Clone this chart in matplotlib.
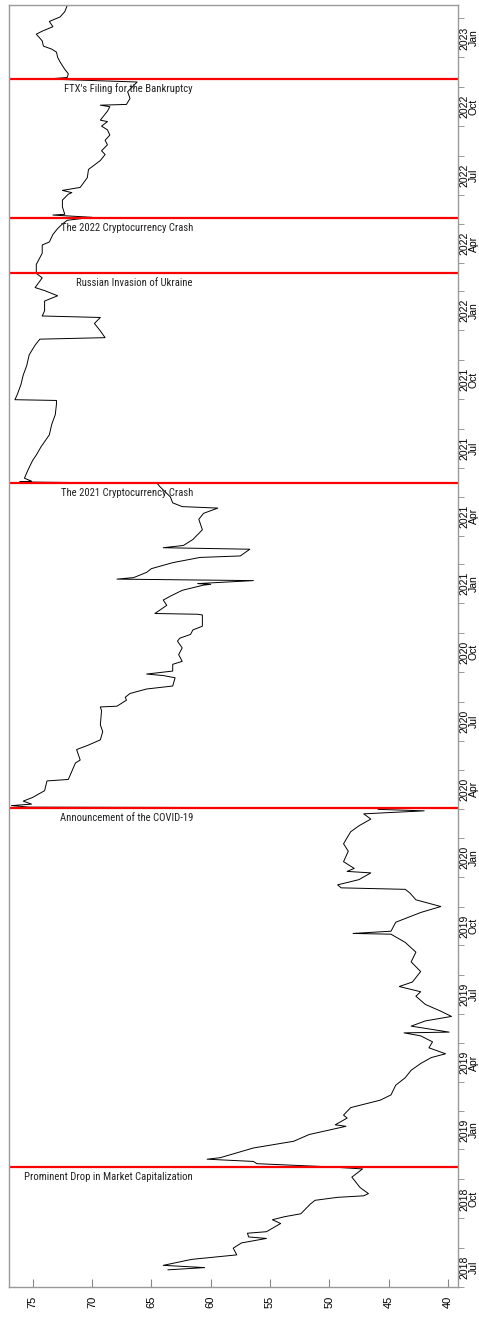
import matplotlib
matplotlib.use('Agg')
import matplotlib.pyplot as plt
import matplotlib.dates as md
import pandas as pd

# series (date, value)
dates = ['2018-07-02', '2018-07-05', '2018-07-08', '2018-07-16', '2018-07-22', '2018-07-31',
         '2018-08-07', '2018-08-13', '2018-08-15', '2018-08-20', '2018-08-22', '2018-09-02',
         '2018-09-07', '2018-09-11', '2018-09-15', '2018-09-28', '2018-10-03', '2018-10-07',
         '2018-10-09', '2018-10-12', '2018-10-20', '2018-11-03', '2018-11-14', '2018-11-17',
         '2018-11-21', '2018-11-24', '2018-11-27', '2018-11-29', '2018-12-12', '2018-12-21',
         '2018-12-30',
         '2019-01-10', '2019-01-12', '2019-01-21', '2019-01-25', '2019-02-04', '2019-02-14',
         '2019-02-21', '2019-03-06', '2019-03-16', '2019-03-26', '2019-04-04', '2019-04-12',
         '2019-04-17', '2019-04-25', '2019-05-03', '2019-05-11', '2019-05-15', '2019-05-16',
         '2019-05-24', '2019-05-31', '2019-06-06', '2019-06-13', '2019-06-22', '2019-07-03',
         '2019-07-09', '2019-07-16', '2019-07-22', '2019-08-05', '2019-08-18', '2019-08-31',
         '2019-09-13', '2019-09-24', '2019-09-25', '2019-09-28', '2019-10-10', '2019-10-23',
         '2019-10-31', '2019-11-09', '2019-11-18', '2019-11-23', '2019-11-25', '2019-11-29',
         '2019-12-06', '2019-12-15', '2019-12-17', '2019-12-21', '2019-12-30',
         '2020-01-13', '2020-01-23', '2020-02-08', '2020-02-16', '2020-02-25', '2020-03-03',
         '2020-03-07', '2020-03-09', '2020-03-11',
         '2020-03-12', '2020-03-14', '2020-03-16', '2020-03-20', '2020-03-25', '2020-04-03',
         '2020-04-16', '2020-04-18', '2020-04-29', '2020-05-10', '2020-05-14', '2020-05-28',
         '2020-06-03', '2020-06-10', '2020-06-21', '2020-06-30', '2020-07-19', '2020-07-24',
         '2020-07-25', '2020-08-02', '2020-08-06', '2020-08-11', '2020-08-17', '2020-08-19',
         '2020-08-21', '2020-09-01', '2020-09-04', '2020-09-06', '2020-09-08', '2020-09-10',
         '2020-09-19', '2020-09-23', '2020-10-02', '2020-10-11', '2020-10-20', '2020-10-24',
         '2020-10-29', '2020-11-04', '2020-11-09', '2020-11-24', '2020-11-25', '2020-11-26',
         '2020-12-07', '2020-12-14', '2020-12-20', '2020-12-27',
         '2021-01-03', '2021-01-04', '2021-01-05', '2021-01-09', '2021-01-11', '2021-01-13',
         '2021-01-20', '2021-01-25', '2021-02-02', '2021-02-09', '2021-02-11', '2021-02-20',
         '2021-02-22', '2021-02-25', '2021-03-05', '2021-03-18', '2021-04-01', '2021-04-09',
         '2021-04-16', '2021-04-18', '2021-04-23', '2021-05-01', '2021-05-15', '2021-05-19',
         '2021-05-21', '2021-05-22', '2021-05-26', '2021-06-06', '2021-06-19', '2021-06-26',
         '2021-07-07', '2021-07-23', '2021-08-06', '2021-08-19', '2021-09-02', '2021-09-07',
         '2021-09-08', '2021-09-15', '2021-09-28', '2021-10-11', '2021-10-24', '2021-11-07',
         '2021-11-20', '2021-11-28', '2021-11-30', '2021-12-09', '2021-12-19', '2021-12-27',
         '2021-12-29',
         '2022-01-05', '2022-01-18', '2022-01-25', '2022-02-01', '2022-02-05', '2022-02-18',
         '2022-02-24', '2022-03-08', '2022-03-23', '2022-04-03', '2022-04-07', '2022-04-17',
         '2022-04-25', '2022-05-01', '2022-05-06', '2022-05-10', '2022-05-13', '2022-05-14',
         '2022-05-24', '2022-06-02', '2022-06-10', '2022-06-12', '2022-06-15', '2022-06-19',
         '2022-07-02', '2022-07-13', '2022-07-19', '2022-07-25', '2022-08-02', '2022-08-07',
         '2022-08-15', '2022-08-21', '2022-08-28', '2022-09-04', '2022-09-09', '2022-09-15',
         '2022-09-17', '2022-09-29', '2022-10-05', '2022-10-07', '2022-10-08', '2022-10-16',
         '2022-10-25', '2022-11-02', '2022-11-07', '2022-11-11', '2022-11-13', '2022-11-18',
         '2022-11-24', '2022-12-04', '2022-12-10', '2022-12-17', '2022-12-21', '2022-12-25',
         '2023-01-01', '2023-01-10', '2023-01-14', '2023-01-20', '2023-01-27', '2023-02-02',
         '2023-02-09', '2023-02-17']

values = [63.6, 60.5, 64.0, 61.6, 57.8, 58.1,
          57.4, 55.3, 56.8, 56.9, 55.3, 54.1,
          54.8, 53.8, 52.4, 51.6, 51.2, 49.3,
          47.1, 46.7, 47.4, 48.1, 47.2, 50.3,
          56.1, 56.4, 60.3, 59.2, 56.4, 53.0,
          51.7,
          48.6, 49.5, 48.5, 48.8, 48.2, 45.7,
          44.8, 44.4, 43.6, 43.1, 42.3, 41.4,
          40.2, 41.6, 41.3, 42.3, 43.7, 39.9,
          43.1, 41.9, 39.7, 40.6, 41.9, 42.7,
          42.3, 44.1, 43.0, 42.3, 43.1, 42.7,
          43.6, 44.8, 48.0, 44.8, 44.4, 42.3,
          40.6, 42.7, 43.2, 43.6, 49.0, 49.3,
          47.5, 46.5, 48.5, 47.9, 48.8,
          48.4, 48.8, 48.2, 47.5, 46.5, 47.1,
          42.0, 45.9, 45.0,
          75.3, 76.8, 75.1, 75.8, 75.0, 74.0,
          73.8, 72.0, 71.7, 71.4, 71.0, 71.3,
          70.3, 69.3, 69.1, 69.3, 69.2, 69.3,
          67.9, 67.1, 67.2, 66.8, 65.4, 64.3,
          63.2, 63.0, 64.0, 65.4, 64.3, 63.2,
          63.2, 62.4, 62.7, 62.4, 62.8, 62.6,
          61.7, 61.5, 60.7, 60.7, 61.1, 64.7,
          63.7, 64.0, 63.3, 62.4,
          60.6, 60.0, 61.1, 56.4, 67.9, 66.5,
          65.4, 65.0, 63.2, 60.9, 57.5, 56.7,
          64.0, 62.3, 61.5, 60.7, 61.0, 60.6,
          59.4, 62.4, 63.2, 63.4, 64.3, 64.5,
          76.1, 75.1, 75.7, 75.4, 75.0, 74.7,
          74.3, 73.6, 73.4, 73.1, 73.0, 73.0,
          76.5, 76.3, 76.0, 75.8, 75.5, 75.3,
          74.8, 74.4, 68.9, 69.3, 69.8, 69.3,
          74.2,
          74.0, 74.0, 72.9, 74.0, 74.8, 74.2,
          74.7, 74.7, 74.2, 74.2, 73.6, 73.3,
          72.9, 72.5, 72.1, 70.0, 73.3, 72.3,
          72.5, 72.5, 72.0, 71.7, 72.5, 71.0,
          70.4, 70.3, 69.8, 69.3, 68.9, 69.2,
          68.7, 68.9, 68.5, 68.7, 69.2, 68.7,
          69.3, 68.7, 68.5, 69.3, 67.1, 66.8,
          67.0, 66.5, 66.2, 73.8, 72.1, 72.0,
          72.3, 72.7, 72.9, 73.0, 73.4, 74.1,
          74.2, 74.7, 74.2, 73.3, 73.6, 72.7,
          72.3, 72.1]

event_dates = ['2018-11-16', '2020-03-11', '2021-05-19', '2022-02-24', '2022-05-09', '2022-11-11']
event_names = ['Prominent Drop in Market Capitalization', 'Announcement of the COVID-19',
               'The 2021 Cryptocurrency Crash', 'Russian Invasion of Ukraine',
               'The 2022 Cryptocurrency Crash', "FTX's Filing for the Bankruptcy"]

value_ticks = [40, 45, 50, 55, 60, 65, 70, 75]
quarter_labels = ['2018-07-05', '2018-10-05', '2019-01-05', '2019-04-05', '2019-07-05',
                  '2019-10-05', '2020-01-05', '2020-04-05', '2020-07-05', '2020-10-05',
                  '2021-01-05', '2021-04-05', '2021-07-05', '2021-10-05', '2022-01-05',
                  '2022-04-05', '2022-07-05', '2022-10-05', '2023-01-05']

t = pd.to_datetime(dates)
ev = pd.to_datetime(event_dates)
ql = pd.to_datetime(quarter_labels)

plt.rcParams['font.family'] = ['Liberation Sans', 'DejaVu Sans']
fig = plt.figure(figsize=(4.79, 13.18), dpi=100)
ax = fig.add_axes([0.0188, 0.0235, 0.9374, 0.9727])

ax.plot(values, t, color='black', lw=0.7)
for d in ev:
    ax.axhline(d, color='red', lw=1.6)
for d, name in zip(ev, event_names):
    ax.annotate(name, xy=(61.5, d), xytext=(0, -10), textcoords='offset pixels',
                ha='right', va='center', fontsize=7.7,
                family=['Roboto Condensed', 'Liberation Sans Narrow', 'DejaVu Sans'],
                fontstretch='condensed', color='#222222')

ax.set_xlim(77.0, 39.15)
ax.set_ylim(pd.Timestamp('2018-07-01'), pd.Timestamp('2023-02-18'))

ax.set_xticks(value_ticks)
ax.set_xticklabels([str(v) for v in value_ticks], rotation=90, fontsize=8)
ax.tick_params(axis='x', direction='in', length=6, color='#888888', pad=6)

ax.yaxis.tick_right()
ax.set_yticks(ql)
ax.set_yticklabels([d.strftime('%Y') + '\n' + d.strftime('%b') for d in ql],
                   rotation=90, va='center', ha='left', fontsize=7.5,
                   multialignment='center', linespacing=0.9)
ax.tick_params(axis='y', which='major', length=0, pad=1)
minor = [d + pd.Timedelta(days=k) for d in ql for k in (-26, 26)]
ax.set_yticks(minor, minor=True)
ax.tick_params(axis='y', which='minor', direction='out', length=4, color='#888888')

for s in ax.spines.values():
    s.set_color('#999999')
    s.set_linewidth(1.0)

fig.savefig('out.png', dpi=100)
